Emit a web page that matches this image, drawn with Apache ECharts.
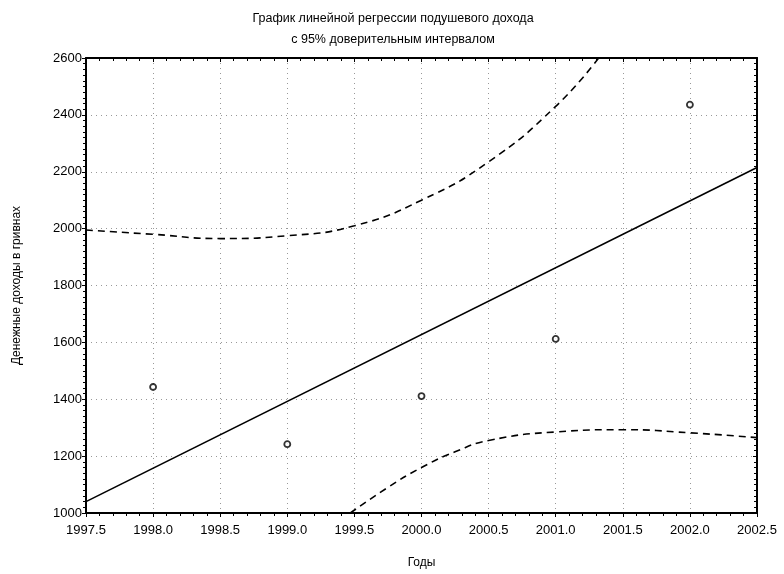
<!DOCTYPE html>
<html>
<head>
<meta charset="utf-8">
<script src="https://cdn.jsdelivr.net/npm/echarts@6/dist/echarts.min.js"></script>
<style>
  html, body { margin: 0; padding: 0; background: #fff; }
  #chart { width: 784px; height: 574px; }
</style>
</head>
<body>
<div id="chart"></div>
<script>
// наблюдения: год, доход
const years = [1998, 1999, 2000, 2001, 2002];
const income = [1443, 1242, 1411, 1612, 2436];

// линия регрессии (концы)
const fitLine = [[1997.5, 1040], [2002.5, 2215]];

// верхняя и нижняя границы 95% интервала
const upperBand = [
  [1997.5, 1995], [1998.0, 1980], [1998.5, 1965], [1999.0, 1975],
  [1999.5, 2010], [2000.0, 2100], [2000.5, 2235], [2001.0, 2430],
  [2001.32, 2600]
];
const lowerBand = [
  [1999.47, 1000], [1999.75, 1090], [2000.0, 1160], [2000.25, 1215],
  [2000.5, 1255], [2001.0, 1285], [2001.5, 1293], [2002.0, 1282],
  [2002.5, 1265]
];

const chart = echarts.init(document.getElementById('chart'));

const font = 'Liberation Sans, Arial, sans-serif';
const gridLine = { show: true, lineStyle: { color: '#999', type: [1, 4], width: 1 } };

chart.setOption({
  animation: false,
  backgroundColor: '#fff',
  textStyle: { fontFamily: font },
  title: {
    text: 'График линейной регрессии подушевого дохода\nс 95% доверительным интервалом',
    left: 388,
    top: 3,
    textAlign: 'center',
    textStyle: { fontSize: 12.5, fontWeight: 'normal', color: '#000', lineHeight: 21, fontFamily: font }
  },
  grid: { left: 86, right: 27, top: 58, bottom: 57 },
  xAxis: [
    {
      type: 'value',
      min: 1997.5,
      max: 2002.5,
      interval: 0.5,
      name: 'Годы',
      nameLocation: 'middle',
      nameGap: 44,
      nameTextStyle: { color: '#000', fontSize: 12 },
      axisLine: { lineStyle: { color: '#000', width: 2 } },
      axisTick: { lineStyle: { color: '#000' }, length: 4 },
      minorTick: { show: true, splitNumber: 5, length: 3, lineStyle: { color: '#000' } },
      axisLabel: { color: '#000', fontSize: 13, formatter: v => v.toFixed(1), margin: 11 },
      splitLine: gridLine
    },
    {
      type: 'value',
      position: 'top',
      min: 1997.5,
      max: 2002.5,
      interval: 0.5,
      axisLine: { lineStyle: { color: '#000', width: 2 } },
      axisTick: { inside: true, lineStyle: { color: '#000' }, length: 4 },
      minorTick: { show: true, splitNumber: 5, length: 3, lineStyle: { color: '#000' } },
      axisLabel: { show: false },
      splitLine: { show: false }
    }
  ],
  yAxis: [
    {
      type: 'value',
      min: 1000,
      max: 2600,
      interval: 200,
      name: 'Денежные доходы в гривнах',
      nameLocation: 'middle',
      nameGap: 63,
      nameTextStyle: { color: '#000', fontSize: 12 },
      axisLine: { show: true, lineStyle: { color: '#000', width: 2 } },
      axisTick: { show: true, lineStyle: { color: '#000' }, length: 4 },
      minorTick: { show: true, splitNumber: 10, length: 3, lineStyle: { color: '#000' } },
      axisLabel: { color: '#000', fontSize: 13, margin: 4, formatter: v => String(v) },
      splitLine: gridLine
    },
    {
      type: 'value',
      position: 'right',
      min: 1000,
      max: 2600,
      interval: 200,
      axisLine: { show: true, lineStyle: { color: '#000', width: 2 } },
      axisTick: { show: true, inside: true, lineStyle: { color: '#000' }, length: 4 },
      minorTick: { show: true, splitNumber: 10, length: 3, lineStyle: { color: '#000' } },
      axisLabel: { show: false },
      splitLine: { show: false }
    }
  ],
  series: [
    {
      name: 'Регрессия',
      type: 'line',
      data: fitLine,
      showSymbol: false,
      lineStyle: { color: '#000', width: 1.6 },
      z: 3
    },
    {
      name: 'Верхняя граница',
      type: 'line',
      data: upperBand,
      smooth: true,
      showSymbol: false,
      clip: true,
      lineStyle: { color: '#000', width: 1.6, type: [7, 5] }
    },
    {
      name: 'Нижняя граница',
      type: 'line',
      data: lowerBand,
      smooth: true,
      showSymbol: false,
      clip: true,
      lineStyle: { color: '#000', width: 1.6, type: [7, 5] }
    },
    {
      name: 'Наблюдения',
      type: 'scatter',
      data: years.map((y, i) => [y, income[i]]),
      symbol: 'circle',
      symbolSize: 6,
      itemStyle: { color: '#fff', borderColor: '#000', borderWidth: 1.8 },
      z: 5
    }
  ]
});
</script>
</body>
</html>
